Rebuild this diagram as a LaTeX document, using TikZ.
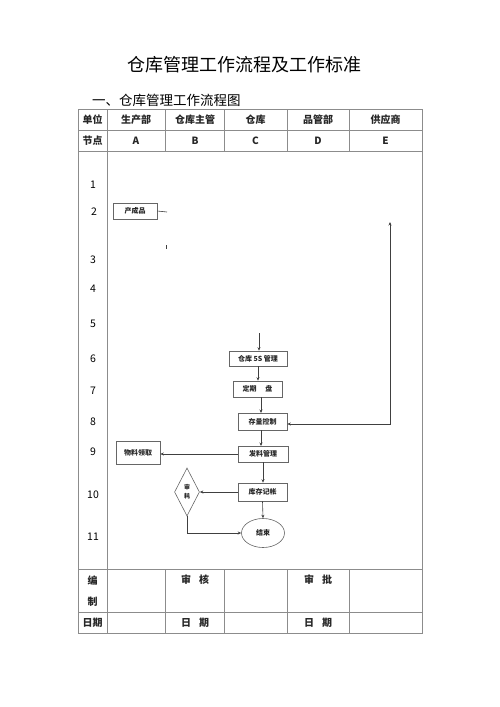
\documentclass[tikz,border=0pt]{standalone}
\usepackage{fontspec}
\setmainfont{Noto Sans CJK SC}
\usetikzlibrary{shapes.geometric,arrows.meta}
\begin{document}
\begin{tikzpicture}[x=1pt,y=-1pt,
  grid/.style={draw=black!45,line width=0.8pt},
  hdr/.style={font=\fontsize{10}{12}\selectfont\bfseries,text=black!85},
  num/.style={font=\fontsize{10.5}{12}\selectfont},
  box/.style={draw=black!60,line width=0.6pt,inner sep=0pt,font=\fontsize{7}{8}\selectfont\bfseries,text=black!85},
  line/.style={draw=black!75,line width=0.6pt},
  arr/.style={line,-{Stealth[length=3.5pt,width=3pt]}}]
\useasboundingbox (0,0) rectangle (500,707);
% titles
\node[font=\fontsize{18}{20}\selectfont] (title) at (244,65) {仓库管理工作流程及工作标准};
\node[font=\fontsize{13.5}{15}\selectfont,anchor=west,inner sep=0pt] (sub) at (92,100) {一、仓库管理工作流程图};
% table grid
\draw[grid] (78,109) rectangle (422,633);
\draw[grid] (78,130) -- (422,130);
\draw[grid] (78,151) -- (422,151);
\draw[grid] (78,569) -- (422,569);
\draw[grid] (78,612) -- (422,612);
\draw[grid] (107,109) -- (107,633);
\foreach \x in {165,224,287,349} {
  \draw[grid] (\x,109) -- (\x,151);
  \draw[grid] (\x,569) -- (\x,633);
}
% header
\node[hdr] (h1) at (92.5,119.5) {单位};
\node[hdr] (h2) at (136,119.5) {生产部};
\node[hdr] (h3) at (195,119.5) {仓库主管};
\node[hdr] (h4) at (255.5,119.5) {仓库};
\node[hdr] (h5) at (318,119.5) {品管部};
\node[hdr] (h6) at (385.5,119.5) {供应商};
\node[hdr] (k1) at (92.5,140.5) {节点};
\node[hdr] (k2) at (136,140.5) {A};
\node[hdr] (k3) at (195,140.5) {B};
\node[hdr] (k4) at (255.5,140.5) {C};
\node[hdr] (k5) at (318,140.5) {D};
\node[hdr] (k6) at (385.5,140.5) {E};
% row numbers
\node[num] (n1) at (93,185) {1};
\node[num] (n2) at (94,212) {2};
\node[num] (n3) at (93,260) {3};
\node[num] (n4) at (93,289) {4};
\node[num] (n5) at (93,324) {5};
\node[num] (n6) at (93,359) {6};
\node[num] (n7) at (93,391) {7};
\node[num] (n8) at (93,422) {8};
\node[num] (n9) at (93,452) {9};
\node[num] (n10) at (93,495) {10};
\node[num] (n11) at (93,537) {11};
% footer
\node[hdr] (f1) at (92.5,581) {编};
\node[hdr] (f2) at (92.5,602) {制};
\node[hdr] (f3) at (195,580) {审\hspace{8pt}核};
\node[hdr] (f4) at (318,580) {审\hspace{8pt}批};
\node[hdr] (g1) at (92.5,623) {日期};
\node[hdr] (g2) at (195,623) {日\hspace{8pt}期};
\node[hdr] (g3) at (318,623) {日\hspace{8pt}期};
% flow nodes
\node[box,minimum width=44pt,minimum height=16pt] (cp) at (135,211) {产成品};
\coordinate (stub) at (167,212);
\coordinate (t1) at (166,245);
\coordinate (t2) at (166,249);
\coordinate (s5) at (259,333);
\node[box,minimum width=58pt,minimum height=15pt] (w5s) at (258,358.5) {仓库 5S 管理};
\node[box,minimum width=49pt,minimum height=16pt] (dq) at (257.5,389) {定期\hspace{9pt}盘};
\node[box,minimum width=49pt,minimum height=17pt] (cl) at (262.5,421.5) {存量控制};
\node[box,minimum width=50pt,minimum height=16pt] (fl) at (263,454) {发料管理};
\node[box,minimum width=44pt,minimum height=23pt] (wl) at (138,452.5) {物料领取};
\node[box,minimum width=49pt,minimum height=18pt] (kc) at (262.5,492) {库存记帐};
\node[box,diamond,minimum width=25pt,minimum height=48pt,align=center,font=\fontsize{6}{9}\selectfont\bfseries] (sh) at (187,492) {审\\耗};
\node[box,ellipse,minimum width=43pt,minimum height=29pt] (end) at (263,533) {结束};
\coordinate (corner) at (390,424);
\coordinate (top) at (390,222);
% connectors
\draw[line] (cp.east) -- (stub);
\draw[line,line width=0.4pt] (t1) -- (t2);
\draw[arr] (s5) -- (s5 |- w5s.north);
\draw[arr] (w5s.south) -- (w5s.south |- dq.north);
\draw[arr] (261,397) -- (261,413);
\draw[line,{Stealth[length=3.5pt,width=3pt]}-{Stealth[length=3.5pt,width=3pt]}] (cl.east |- corner) -- (corner) -- (top);
\draw[arr] (261,430) -- (261,446);
\draw[arr] (fl.west) -- (fl.west -| wl.east);
\draw[arr] (fl.south) -- (fl.south |- kc.north);
\draw[arr] (kc.west) -- (sh.east);
\draw[arr] (kc.south) -- (end.north);
\draw[arr] (sh.south) -- (sh.south |- end.west) -- (end.west);
\end{tikzpicture}
\end{document}
